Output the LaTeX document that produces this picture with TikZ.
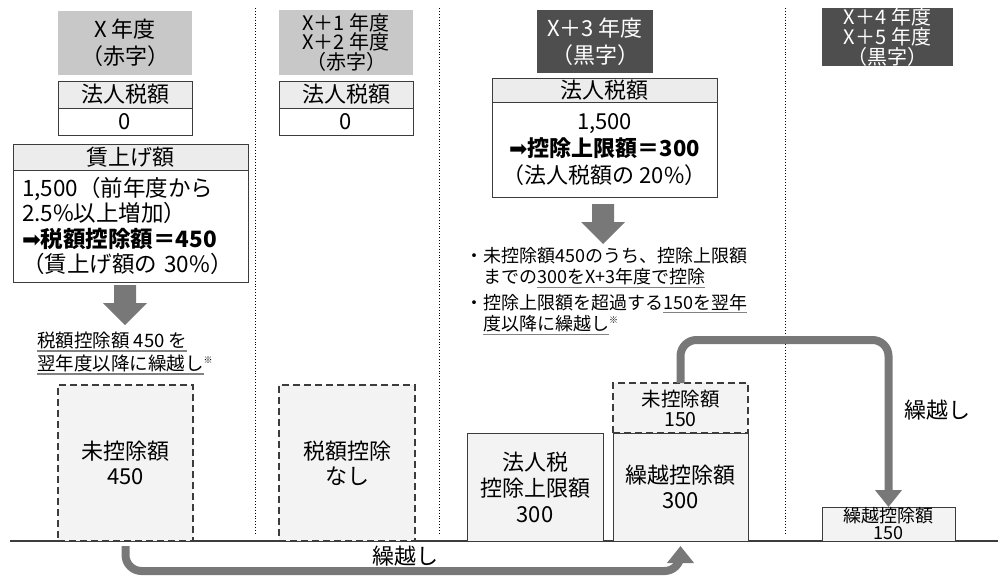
\documentclass[tikz,border=0pt]{standalone}
\usepackage{fontspec}
\setmainfont{Noto Sans CJK JP}
\newfontfamily\symfont{DejaVu Sans}
\usetikzlibrary{positioning, arrows.meta}
\definecolor{hdrlight}{RGB}{200,200,200}
\definecolor{hdrdark}{RGB}{78,78,78}
\definecolor{rowgray}{RGB}{236,236,236}
\definecolor{boxfill}{RGB}{243,243,243}
\definecolor{linecol}{RGB}{60,60,60}
\definecolor{arrowgray}{RGB}{120,120,120}
\definecolor{ulgray}{RGB}{130,130,130}

\newcommand{\ulgray}[1]{\setbox0\hbox{#1}\rlap{\color{ulgray}\rule[-4pt]{\wd0}{1.3pt}}\box0}
\newcommand{\kome}{\raisebox{7pt}{\fontsize{9}{9}\selectfont ※}}
\newcommand{\rarr}{{\symfont ➡}}
\newcommand{\downblock}[2]{\fill[arrowgray] (#1-11,#2) -- ++(22,0) -- ++(0,18) -- ++(11,0) -- (#1,#2+40) -- ++(-22,-22) -- ++(11,0) -- cycle;}

\tikzset{
	hdrbox/.style={fill=hdrlight, minimum width=134pt, minimum height=64pt, inner sep=0pt, outer sep=0pt, align=center, font=\fontsize{22}{27}\selectfont},
	darkhdr/.style={hdrbox, fill=hdrdark, text=white},
	hdrtight/.style={font=\fontsize{20}{17.5}\selectfont},
	rowhead/.style={draw=linecol, line width=1pt, fill=rowgray, minimum width=134pt, minimum height=27pt, inner sep=0pt, outer sep=0pt, font=\fontsize{22}{26}\selectfont},
	rowval/.style={rowhead, fill=white},
	dashbox/.style={draw=linecol, line width=1.3pt, dash pattern=on 7pt off 4pt, fill=boxfill, inner sep=0pt, outer sep=0pt, align=center, font=\fontsize{22}{25}\selectfont},
	solidbox/.style={draw=linecol, line width=1pt, fill=boxfill, inner sep=0pt, outer sep=0pt, align=center, font=\fontsize{22}{25}\selectfont},
	smalltxt/.style={inner sep=0pt, align=left, font=\fontsize{18.5}{23}\selectfont},
	sep/.style={dotted, line width=0.9pt},
	carry/.style={draw=arrowgray, line width=8pt, rounded corners=16pt, -{Triangle[width=26pt,length=17pt]}}
}

\begin{document}
\begin{tikzpicture}[x=1pt, y=-1pt]
\useasboundingbox (0,0) rectangle (998,584);

\foreach \x in {255,439,785}{
	\draw[sep] (\x,8) -- (\x,535);
};

\draw[linecol, line width=1.6pt] (10,541) -- (998,541);

%----------X YEAR-------------%
\node[hdrbox] (h1) at (125,43) {X 年度\\（赤字）};
\node[rowhead] (t1) at (125,94.5) {法人税額};
\node[rowval, below=0pt of t1] (v1) {0};
\node[rowhead, minimum width=235pt, minimum height=26pt] (w1) at (130.5,157) {賃上げ額};
\node[rowval, minimum width=235pt, minimum height=112pt, text width=217pt, inner xsep=9pt, align=left, below=0pt of w1, font=\fontsize{22.5}{25.5}\selectfont] (w1b)
{1,500（前年度から\\2.5\%以上増加）\\\rarr\textbf{税額控除額＝450}\\（賃上げ額の 30\%）};
\downblock{125}{285}
\node[smalltxt, anchor=north west] (n1) at (37,332) {\ulgray{税額控除額 450 を}\\\ulgray{翌年度以降に繰越し}\kome};
\node[dashbox, minimum width=135pt, minimum height=156pt] (d1) at (125.5,463) {未控除額\\450};

%----------X+1, X+2 YEAR-------------%
\node[hdrbox, hdrtight, minimum height=65pt] (h2) at (346,42.5) {X＋1 年度\\X＋2 年度\\（赤字）};
\node[rowhead] (t2) at (346,94.5) {法人税額};
\node[rowval, below=0pt of t2] (v2) {0};
\node[dashbox, minimum width=136pt, minimum height=156pt] (d2) at (347,463) {税額控除\\なし};

%----------X+3 YEAR-------------%
\node[darkhdr, minimum width=116pt, minimum height=63pt] (h3) at (595,41.5) {X＋3 年度\\（黒字）};
\node[rowhead, minimum width=225pt, minimum height=24pt] (t3) at (604.5,90) {法人税額};
\node[rowval, minimum width=225pt, minimum height=95pt, below=0pt of t3, align=center, font=\fontsize{22}{27}\selectfont] (v3)
{1,500\\\rarr\textbf{控除上限額＝300}\\（法人税額の 20\%）};
\downblock{603}{204}
\node[smalltxt, font=\fontsize{18}{21.5}\selectfont, anchor=north west] (n3) at (465,247)
{・未控除額450のうち、控除上限額\\
\hspace*{18pt}までの\ulgray{300をX+3年度で控除}\\[4pt]
・控除上限額を超過する\ulgray{150を翌年}\\
\hspace*{18pt}\ulgray{度以降に繰越し}\kome};
\node[solidbox, minimum width=136pt, minimum height=108pt, font=\fontsize{22}{26}\selectfont] (l3) at (535,487) {法人税\\控除上限額\\300};
\node[solidbox, minimum width=135pt, minimum height=108pt] (c3) at (680.5,487) {繰越控除額\\300};
\node[dashbox, minimum width=135pt, minimum height=50pt, font=\fontsize{19.5}{20}\selectfont, above=0pt of c3] (u3) {未控除額\\150};

%----------X+4, X+5 YEAR-------------%
\node[darkhdr, hdrtight, minimum width=131pt, minimum height=58pt] (h4) at (887.5,37) {X＋4 年度\\X＋5 年度\\（黒字）};
\node[solidbox, minimum width=133pt, minimum height=34pt, font=\fontsize{18}{17}\selectfont] (c4) at (888.5,524) {繰越控除額\\150};

%----------CARRY ARROWS-------------%
\coordinate (top) at (0,340);
\coordinate (low) at (0,571);
\draw[carry] (u3.north) -- (u3.north |- top) -| (c4.north);
\draw[carry] ([yshift=-5pt]d1.south) |- (low -| c3.south) -- ([yshift=-5pt]c3.south);
\node[font=\fontsize{22}{22}\selectfont] (k1) at (405,556) {繰越し};
\node[font=\fontsize{22}{22}\selectfont] (k2) at (937,410) {繰越し};

\end{tikzpicture}
\end{document}
